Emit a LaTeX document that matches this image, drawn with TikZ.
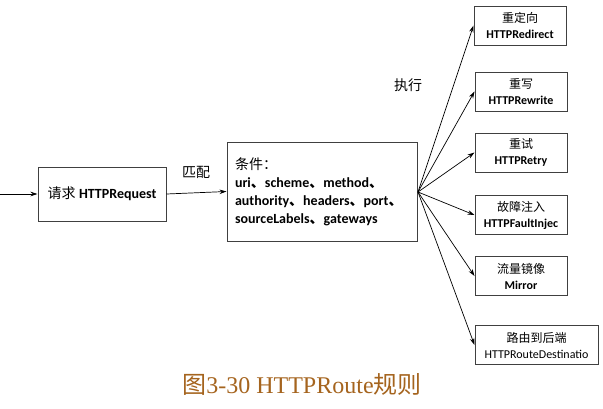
\documentclass[tikz,border=0pt]{standalone}
\usepackage{fontspec}
\setmainfont{Liberation Serif}
\newfontfamily\cjk{Noto Sans CJK SC}
\newfontfamily\lat{Carlito}
\usetikzlibrary{arrows.meta}
\newcommand{\dn}{{\cjk 、}}
\begin{document}
\begin{tikzpicture}[x=1pt,y=-1pt,
  box/.style={draw=black!75,line width=1pt,fill=white,inner sep=2pt,align=center,font=\fontsize{12}{16}\selectfont},
  rbox/.style={box,minimum width=92pt,minimum height=39pt},
  arr/.style={draw=black,line width=0.7pt,-{Stealth[length=7pt,width=4.5pt]}},
  lbl/.style={font=\cjk\fontsize{14}{16}\selectfont}]
\useasboundingbox (0,0) rectangle (603,408);
\node[box,minimum width=128pt,minimum height=54pt,font=\fontsize{14}{16}\selectfont] (req) at (102,194) {{\cjk 请求} {\lat\bfseries HTTPRequest}};
\node[box,minimum width=190pt,minimum height=99pt,text width=174pt,align=left,font=\fontsize{14}{18}\selectfont] (cond) at (322,191.5)
 {{\cjk 条件：}\\
 {\lat\bfseries uri\dn scheme\dn method\dn}\\
 {\lat\bfseries authority\dn headers\dn port\dn}\\
 {\lat\bfseries sourceLabels\dn gateways}};
\node[rbox] (r1) at (520,25.5) {{\cjk 重定向}\\{\lat\bfseries HTTPRedirect}};
\node[rbox] (r2) at (521,91.5) {{\cjk 重写}\\{\lat\bfseries HTTPRewrite}};
\node[rbox] (r3) at (521,152.5) {{\cjk 重试}\\{\lat\bfseries HTTPRetry}};
\node[rbox] (r4) at (521,215) {{\cjk 故障注入}\\{\lat\bfseries HTTPFaultInjec}};
\node[rbox] (r5) at (521,276) {{\cjk 流量镜像}\\{\lat\bfseries Mirror}};
\node[rbox,minimum width=123pt] (r6) at (536.5,345) {{\cjk 路由到后端}\\{\lat HTTPRouteDestinatio}};
\coordinate (in) at (0,194);
\coordinate (fan) at (418,192);
\draw[arr] (in) -- (req.west);
\draw[arr] (req.east) -- (cond.west);
\foreach \n in {r1,r2,r3,r4,r5,r6} \draw[arr] (fan) -- (\n.west);
\node[lbl] (m) at (196,172) {匹配};
\node[lbl] (e) at (408,85) {执行};
\node[text={rgb,255:red,165;green,100;blue,30},font=\fontsize{24}{28}\selectfont] (cap) at (302,384) {{\cjk 图}3-30 HTTPRoute{\cjk 规则}};
\end{tikzpicture}
\end{document}
